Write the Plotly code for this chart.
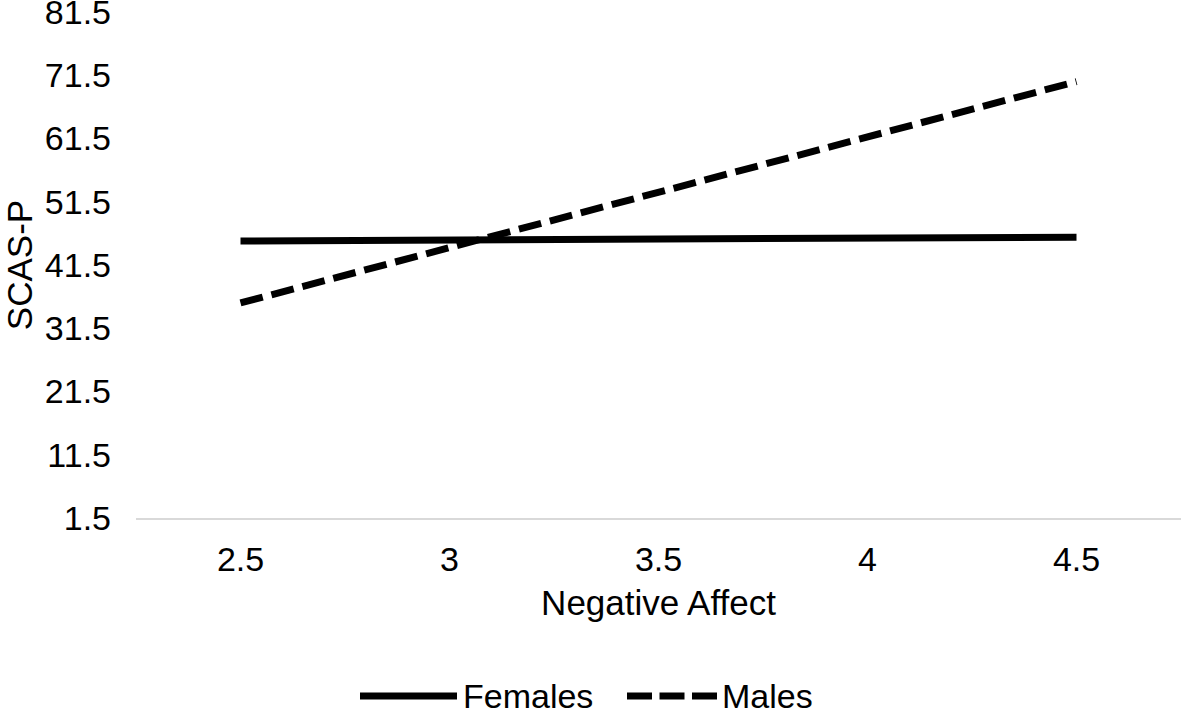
import plotly.graph_objects as go

# Data
neg_affect = ["2.5", "3", "3.5", "4", "4.5"]
females = [45.3, 45.45, 45.6, 45.75, 45.9]
males = [35.5, 44.3, 53.0, 61.8, 70.5]
y_ticks = [1.5, 11.5, 21.5, 31.5, 41.5, 51.5, 61.5, 71.5, 81.5]

FONT = "Liberation Sans, Arial, sans-serif"

# layout geometry (pixels)
W, H = 1181, 711
L, R, T, B = 136, 0, 12, 193
PW, PH = W - L - R, H - T - B


def px(x):
    return (x - L) / PW


def py(y):
    return (H - B - y) / PH


fig = go.Figure()
fig.add_trace(go.Scatter(x=neg_affect, y=females, mode="lines", name="Females",
                         line=dict(color="#000000", width=7), showlegend=False))
fig.add_trace(go.Scatter(x=neg_affect, y=males, mode="lines", name="Males",
                         line=dict(color="#000000", width=7, dash="23px,9px"),
                         showlegend=False))

fig.update_layout(
    width=W, height=H,
    margin=dict(l=L, r=R, t=T, b=B, pad=0, autoexpand=False),
    paper_bgcolor="white", plot_bgcolor="white",
    font=dict(family=FONT, color="#000000", size=34),
    xaxis=dict(type="category", range=[-0.5, 4.5], showgrid=False,
               showline=True, linecolor="#d9d9d9", linewidth=2,
               ticks="", ticklabelstandoff=10, zeroline=False,
               automargin=False,
               tickfont=dict(size=34),
               title=dict(text="Negative Affect", font=dict(size=35), standoff=14)),
    yaxis=dict(range=[1.5, 81.502], tickvals=y_ticks,
               ticktext=[f"{v:g}" for v in y_ticks], showgrid=False,
               showline=False, zeroline=False, ticks="", ticklabelstandoff=24,
               ticklabeloverflow="allow", automargin=False,
               tickfont=dict(size=34),
               title=dict(text="SCAS-P", font=dict(size=35), standoff=4)),
)

# Custom legend (bottom, centered on figure)
ly = 696
fig.add_shape(type="line", xref="paper", yref="paper",
              x0=px(360), x1=px(457), y0=py(ly), y1=py(ly),
              line=dict(color="#000000", width=7))
fig.add_shape(type="line", xref="paper", yref="paper",
              x0=px(627), x1=px(717), y0=py(ly), y1=py(ly),
              line=dict(color="#000000", width=7, dash="25px,7.5px"))
fig.add_annotation(text="Females", xref="paper", yref="paper",
                   x=px(461), y=py(ly), xanchor="left", yanchor="middle",
                   showarrow=False, font=dict(size=34, family=FONT, color="#000"))
fig.add_annotation(text="Males", xref="paper", yref="paper",
                   x=px(720), y=py(ly), xanchor="left", yanchor="middle",
                   showarrow=False, font=dict(size=34, family=FONT, color="#000"))

fig.write_html("out.html",
               config={"displayModeBar": False},
               post_script="document.body.style.margin='0';"
                           "document.body.style.overflow='hidden';")
